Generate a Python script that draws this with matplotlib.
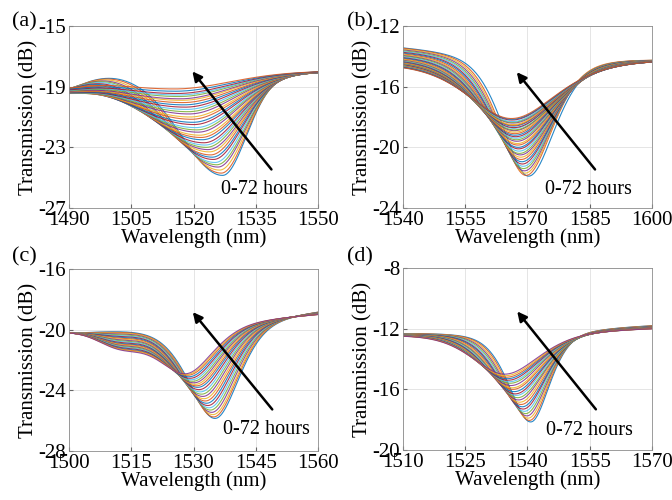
import numpy as np
import matplotlib
matplotlib.use("Agg")
import matplotlib.pyplot as plt

plt.rcParams['font.family'] = ['Liberation Serif', 'DejaVu Serif']
plt.rcParams['axes.unicode_minus'] = False

# dip minimum position (nm) and minimum level (dB) of every spectrum, 0 h first
a_centers = [1527.0, 1526.7, 1526.3, 1525.9, 1525.6, 1525.2, 1524.8, 1524.5, 1524.1, 1523.8,
             1523.5, 1523.1, 1522.8, 1522.5, 1522.1, 1521.8, 1521.5, 1521.1, 1520.8, 1520.5,
             1520.1, 1519.8, 1519.5, 1519.2, 1518.9, 1518.6, 1518.3, 1518.0, 1517.7, 1517.4,
             1517.1, 1516.8, 1516.5, 1516.3, 1516.0, 1515.7, 1515.4]
a_mins = [-24.85, -24.7, -24.5, -24.3, -24.15, -24.0, -23.8, -23.65, -23.5, -23.3,
          -23.15, -23.0, -22.85, -22.7, -22.5, -22.35, -22.2, -22.0, -21.85, -21.7,
          -21.5, -21.35, -21.15, -21.0, -20.8, -20.65, -20.5, -20.35, -20.2, -20.05,
          -19.9, -19.8, -19.65, -19.55, -19.45, -19.3, -19.15]

b_centers = [1570.2, 1569.6, 1569.4, 1569.2, 1569.0, 1568.9, 1568.7, 1568.6, 1568.4, 1568.3,
             1568.2, 1568.0, 1567.9, 1567.8, 1567.7, 1567.6, 1567.5, 1567.4, 1567.3, 1567.2,
             1567.1, 1567.0, 1566.9, 1566.9, 1566.8, 1566.8, 1566.7, 1566.7, 1566.6, 1566.6,
             1566.5, 1566.5, 1566.4, 1566.4, 1566.3, 1566.3, 1566.2]
b_mins = [-21.9, -21.85, -21.7, -21.55, -21.4, -21.25, -21.1, -20.95, -20.8, -20.65,
          -20.5, -20.4, -20.25, -20.1, -20.0, -19.85, -19.75, -19.6, -19.5, -19.4,
          -19.3, -19.2, -19.1, -19.0, -18.9, -18.85, -18.75, -18.7, -18.6, -18.55,
          -18.5, -18.4, -18.35, -18.3, -18.2, -18.15, -18.1]

c_centers = [1535.3, 1535.0, 1534.8, 1534.5, 1534.2, 1533.9, 1533.6, 1533.3, 1533.0, 1532.7,
             1532.4, 1532.1, 1531.8, 1531.5, 1531.2, 1530.9, 1530.6, 1530.3, 1530.0, 1529.7,
             1529.4, 1529.1, 1528.8, 1528.5, 1528.2]
c_mins = [-25.85, -25.75, -25.6, -25.45, -25.3, -25.15, -25.0, -24.85, -24.7, -24.55,
          -24.4, -24.25, -24.1, -23.95, -23.8, -23.7, -23.6, -23.5, -23.4, -23.3,
          -23.2, -23.1, -23.0, -22.95, -22.9]

d_centers = [1540.8, 1540.5, 1540.2, 1539.9, 1539.6, 1539.3, 1539.0, 1538.8, 1538.5, 1538.2,
             1537.9, 1537.7, 1537.4, 1537.1, 1536.9, 1536.6, 1536.4, 1536.1, 1535.9, 1535.7,
             1535.4, 1535.2, 1535.0, 1534.8, 1534.6]
d_mins = [-18.15, -18.05, -17.9, -17.75, -17.6, -17.45, -17.3, -17.15, -17.0, -16.85,
          -16.7, -16.55, -16.4, -16.3, -16.15, -16.0, -15.9, -15.75, -15.6, -15.5,
          -15.4, -15.3, -15.2, -15.1, -15.0]

matlab = ['#0072BD', '#D95319', '#EDB120', '#7E2F8E', '#77AC30', '#4DBEEE', '#A2142F']


def dip(x, c, wl, wr, eta):
    u = np.where(x < c, (x - c) / wl, (x - c) / wr)
    return (1 - eta) * np.exp(-np.log(2) * u**2) + eta / (1 + u**2)


# line shape per panel: x range, y range, (deep, shallow) widths, baseline ends
panels = [
    dict(lab='(a)', cen=a_centers, mn=a_mins, xr=(1490, 1550), yr=(-27, -15),
         wl=(12, 24), wr=(7, 16), eta=0.15, base=((-17.95, -17.95), (-17.95, -17.95)),
         ldip=((1.3, 0.7), 1486, 8), arrow=((1539.2, -24.6), (1519.3, -17.85)), txt=(1537.2, -25.8)),
    dict(lab='(b)', cen=b_centers, mn=b_mins, xr=(1540, 1600), yr=(-24, -12),
         wl=(7.5, 12.5), wr=(7.8, 13), eta=0.5, base=((-13.2, -14.0), (-14.3, -14.1)),
         ldip=None, arrow=((1586.7, -21.6), (1567.0, -14.9)), txt=(1584.8, -22.8)),
    dict(lab='(c)', cen=c_centers, mn=c_mins, xr=(1500, 1560), yr=(-28, -16),
         wl=(7.8, 9), wr=(7, 8), eta=0.5, base=((-20.1, -18.6), (-20.0, -18.9)),
         ldip=((0.0, 0.95), 1512, 6), arrow=((1549.4, -25.4), (1529.4, -18.7)), txt=(1547.5, -26.6)),
    dict(lab='(d)', cen=d_centers, mn=d_mins, xr=(1510, 1570), yr=(-20, -8),
         wl=(6.3, 9.5), wr=(5.5, 10), eta=0.5, base=((-12.2, -11.7), (-12.3, -11.9)),
         ldip=None, arrow=((1556.9, -17.46), (1537.1, -10.72)), txt=(1554.9, -18.7)),
]

pos = [(0.1027, 0.584), (0.5997, 0.584), (0.1027, 0.098), (0.5997, 0.100)]
lab_pos = [(0.036, 0.956), (0.536, 0.956), (0.036, 0.486), (0.536, 0.486)]

fig = plt.figure(figsize=(6.72, 5.0), dpi=100)

for p, (x0, y0), (lx, ly) in zip(panels, pos, lab_pos):
    ax = fig.add_axes([x0, y0, 0.3705, 0.364])
    x = np.linspace(p['xr'][0], p['xr'][1], 500)
    mn = np.array(p['mn'])
    for i, (c, d) in enumerate(zip(p['cen'], p['mn'])):
        f = (d - mn[0]) / (mn[-1] - mn[0])
        bl = p['base'][0][0] + f * (p['base'][1][0] - p['base'][0][0])
        br = p['base'][0][1] + f * (p['base'][1][1] - p['base'][0][1])
        base = bl + (br - bl) * (x - x[0]) / (x[-1] - x[0])
        if p['ldip'] is not None:
            amp = p['ldip'][0][0] + f * (p['ldip'][0][1] - p['ldip'][0][0])
            base = base - amp * np.exp(-np.log(2) * ((x - p['ldip'][1]) / p['ldip'][2])**2)
        wl = p['wl'][0] + f * (p['wl'][1] - p['wl'][0])
        wr = p['wr'][0] + f * (p['wr'][1] - p['wr'][0])
        b_c = bl + (br - bl) * (c - x[0]) / (x[-1] - x[0])
        y = base - (b_c - d) * dip(x, c, wl, wr, p['eta'])
        ax.plot(x, y, color=matlab[i % 7], lw=0.8, alpha=0.85)

    ax.set_xlim(*p['xr'])
    ax.set_ylim(*p['yr'])
    ax.set_xticks(np.arange(p['xr'][0], p['xr'][1] + 1, 15))
    ax.set_yticks(np.arange(p['yr'][0], p['yr'][1] + 1, 4))
    ax.grid(True, color='0.88', lw=0.6)
    ax.set_axisbelow(True)
    ax.tick_params(direction='in', length=3, labelsize=15, pad=2, color='0.4')
    for s in ax.spines.values():
        s.set_color('0.55')
        s.set_linewidth(0.6)
    ax.set_xlabel('Wavelength (nm)', fontsize=15, labelpad=-1)
    ax.set_ylabel('Transmission (dB)', fontsize=15, labelpad=0)
    ax.annotate('', xy=p['arrow'][1], xytext=p['arrow'][0],
                arrowprops=dict(arrowstyle='-|>', color='k', lw=1.8, mutation_scale=14))
    ax.text(p['txt'][0], p['txt'][1], '0-72 hours', fontsize=14.5, ha='center', va='center')
    fig.text(lx, ly, p['lab'], fontsize=16, ha='center', va='center')

fig.savefig('out.png', dpi=100)
